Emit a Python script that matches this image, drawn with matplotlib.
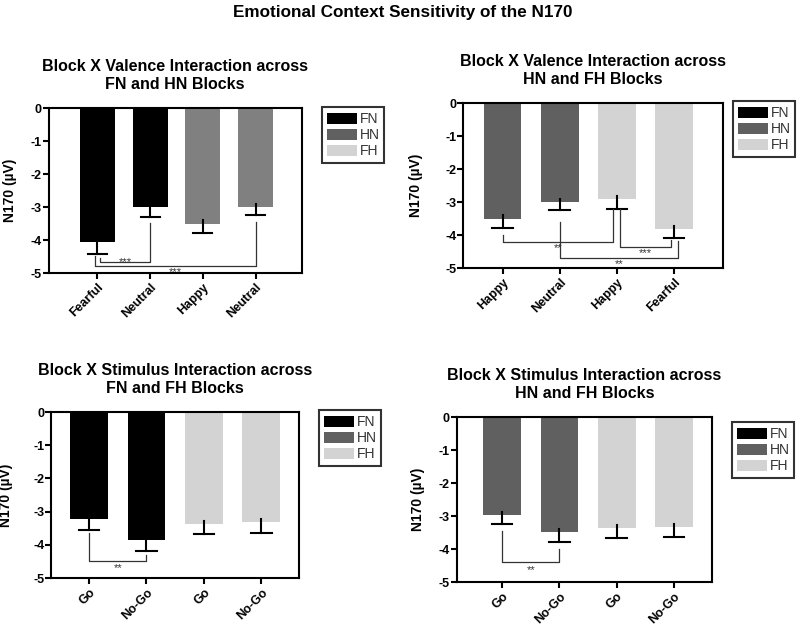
import numpy as np
import matplotlib.pyplot as plt
from matplotlib.patches import Patch

plt.rcParams['font.family'] = ['Liberation Sans', 'DejaVu Sans']

# colores de los bloques
COLORES = {'FN': '#000000', 'HN': '#606060', 'FH': '#d3d3d3'}

# panel 1: Block X Valence, FN y HN
p1_labels = ['Fearful', 'Neutral', 'Happy', 'Neutral']
p1_blocks = ['FN', 'FN', 'HN', 'HN']
p1_means = [-4.05, -3.0, -3.5, -3.0]
p1_err = [0.37, 0.3, 0.28, 0.25]

# panel 2: Block X Valence, HN y FH
p2_labels = ['Happy', 'Neutral', 'Happy', 'Fearful']
p2_blocks = ['HN', 'HN', 'FH', 'FH']
p2_means = [-3.5, -3.0, -2.9, -3.82]
p2_err = [0.28, 0.25, 0.3, 0.28]

# panel 3: Block X Stimulus, FN y FH
p3_labels = ['Go', 'No-Go', 'Go', 'No-Go']
p3_blocks = ['FN', 'FN', 'FH', 'FH']
p3_means = [-3.22, -3.85, -3.37, -3.32]
p3_err = [0.33, 0.33, 0.31, 0.32]

# panel 4: Block X Stimulus, HN y FH
p4_labels = ['Go', 'No-Go', 'Go', 'No-Go']
p4_blocks = ['HN', 'HN', 'FH', 'FH']
p4_means = [-2.97, -3.48, -3.37, -3.33]
p4_err = [0.26, 0.3, 0.3, 0.3]

# corchetes de significancia: (x izq, y inicio izq, x der, y inicio der, y linea, texto, y texto)
p1_sig = [(0.05, -4.55, 1.0, -3.48, -4.67, '***', -4.53),
          (-0.05, -4.47, 3.0, -3.45, -4.79, '***', -4.83)]
p2_sig = [(0.0, -4.0, 1.93, -3.2, -4.21, '**', -4.25),
          (2.05, -3.2, 2.94, -4.15, -4.36, '***', -4.40),
          (1.0, -3.6, 3.07, -4.18, -4.7, '**', -4.74)]
p3_sig = [(0.0, -3.65, 1.0, -4.3, -4.5, '**', -4.56)]
p4_sig = [(0.0, -3.45, 1.0, -4.0, -4.4, '**', -4.48)]

titulos = ['Block X Valence Interaction across\nFN and HN Blocks',
           'Block X Valence Interaction across\nHN and FH Blocks',
           'Block X Stimulus Interaction across\nFN and FH Blocks',
           'Block X Stimulus Interaction across\nHN and FH Blocks']

posiciones = [[0.061, 0.5625, 0.316, 0.264],
              [0.579, 0.5705, 0.325, 0.264],
              [0.064, 0.0737, 0.31, 0.266],
              [0.571, 0.0673, 0.319, 0.264]]
xlims = [(-0.92, 3.87), (-0.69, 3.86), (-0.66, 3.66), (-0.79, 3.66)]
ylabel_x = [-0.126, -0.154, -0.153, -0.125]
# esquina superior izquierda de cada leyenda, en pixeles de la figura
legend_px = [(322, 107), (733, 101), (319, 410), (732, 422)]

paneles = [(p1_labels, p1_blocks, p1_means, p1_err, p1_sig),
           (p2_labels, p2_blocks, p2_means, p2_err, p2_sig),
           (p3_labels, p3_blocks, p3_means, p3_err, p3_sig),
           (p4_labels, p4_blocks, p4_means, p4_err, p4_sig)]

fig = plt.figure(figsize=(8, 6.24), dpi=100)
fig.suptitle('Emotional Context Sensitivity of the N170', fontsize=12.3,
             fontweight='bold', x=0.503, y=0.992)

for i, (labels, blocks, means, err, sig) in enumerate(paneles):
    ax = fig.add_axes(posiciones[i])
    x = np.arange(len(labels))
    colores = [COLORES[b] for b in blocks]
    # en el primer panel el gris de HN sale mas claro
    if i == 0:
        colores = ['#808080' if b == 'HN' else COLORES[b] for b in blocks]
    ax.bar(x, means, width=0.66, color=colores, zorder=2)

    # barras de error solo hacia abajo
    for xi, m, e in zip(x, means, err):
        ax.plot([xi, xi], [m + 0.1, m - e], color='black', lw=1.5, zorder=3)
        ax.plot([xi - 0.18, xi + 0.18], [m - e, m - e], color='black', lw=1.5, zorder=3)

    for xl, yl, xr, yr, yline, txt, ytxt in sig:
        ax.plot([xl, xl, xr, xr], [yl, yline, yline, yr], color='#333333', lw=0.9, zorder=3)
        ax.text((xl + xr) / 2, ytxt, txt, ha='center', va='top', fontsize=8, color='#333333')

    ax.set_xlim(*xlims[i])
    ax.set_ylim(-5, 0)
    ax.set_yticks([0, -1, -2, -3, -4, -5])
    ax.set_yticklabels(['0', '-1', '-2', '-3', '-4', '-5'], fontweight='bold', fontsize=9)
    ax.set_xticks(x)
    ax.set_xticklabels(labels, rotation=45, ha='right', rotation_mode='anchor',
                       fontweight='bold', fontsize=9)
    ax.tick_params(axis='both', width=1.5, length=4, direction='out')
    ax.tick_params(axis='y', pad=1)
    ax.tick_params(axis='x', pad=2)
    for s in ax.spines.values():
        s.set_linewidth(1.5)
    ax.set_ylabel('N170 (µV)', fontweight='bold', fontsize=10)
    ax.yaxis.set_label_coords(ylabel_x[i], 0.5)
    ax.set_title(titulos[i], fontweight='bold', fontsize=11.5, pad=14)

    handles = [Patch(facecolor=COLORES[k], edgecolor='none', label=k) for k in ['FN', 'HN', 'FH']]
    lx, ly = legend_px[i]
    leg = fig.legend(handles=handles, loc='upper left',
                     bbox_to_anchor=(lx / 800, 1 - ly / 624),
                     frameon=True, fancybox=False, fontsize=10, handlelength=2.2,
                     handleheight=0.85, handletextpad=0.15, labelspacing=0.15,
                     borderpad=0.35, borderaxespad=0, labelcolor='#333333')
    leg.get_frame().set_edgecolor('black')
    leg.get_frame().set_linewidth(1.5)

fig.savefig('out.png', dpi=100)
